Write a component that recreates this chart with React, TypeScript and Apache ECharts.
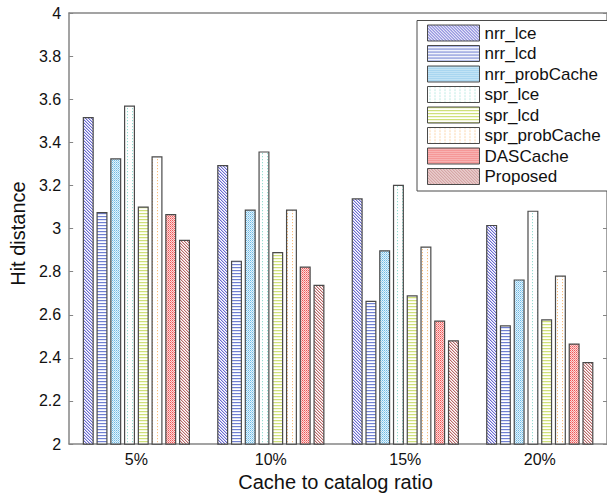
import React, { useEffect, useRef } from "react";
import * as echarts from "echarts";

const categories = ["5%", "10%", "15%", "20%"];
const seriesNames = [
  "nrr_lce",
  "nrr_lcd",
  "nrr_probCache",
  "spr_lce",
  "spr_lcd",
  "spr_probCache",
  "DASCache",
  "Proposed",
];
const nrrLce = [3.517, 3.295, 3.14, 3.017];
const nrrLcd = [3.077, 2.851, 2.665, 2.551];
const nrrProbCache = [3.326, 3.088, 2.899, 2.764];
const sprLce = [3.571, 3.358, 3.203, 3.083];
const sprLcd = [3.102, 2.891, 2.69, 2.579];
const sprProbCache = [3.335, 3.088, 2.917, 2.782];
const dasCache = [3.067, 2.824, 2.573, 2.467];
const proposed = [2.948, 2.739, 2.482, 2.381];
const yTicks = { min: 2, max: 4, interval: 0.2 };

type Px = [number, number, string];

function makePattern(w: number, h: number, bg: string, px: Px[]) {
  const c = document.createElement("canvas");
  c.width = w;
  c.height = h;
  const ctx = c.getContext("2d")!;
  ctx.fillStyle = bg;
  ctx.fillRect(0, 0, w, h);
  px.forEach(([x, y, col]) => {
    ctx.fillStyle = col;
    ctx.fillRect(x, y, 1, 1);
  });
  return { image: c, repeat: "repeat", imageWidth: w, imageHeight: h } as any;
}

function diag(dark: string, light: string): Px[] {
  const out: Px[] = [];
  for (let i = 0; i < 3; i++) {
    out.push([i, i, dark]);
    out.push([(i + 1) % 3, i, light]);
  }
  return out;
}

export default function App() {
  const ref = useRef<HTMLDivElement>(null);
  useEffect(() => {
    if (!ref.current) return;
    const chart = echarts.init(ref.current, null, { renderer: "svg" });
    const patterns = [
      makePattern(3, 3, "#ffffff", diag("#6a6ad2", "#c8c8ef")),
      makePattern(1, 3, "#ffffff", [
        [0, 0, "#7080d2"],
        [0, 1, "#e2e6f8"],
      ]),
      makePattern(2, 2, "#e4f3fb", [
        [0, 0, "#6db9e4"],
        [1, 1, "#9fd2ef"],
      ]),
      makePattern(5, 3, "#ffffff", [
        [2, 0, "#96ded2"],
        [2, 1, "#e6f7f4"],
      ]),
      makePattern(1, 3, "#ffffff", [
        [0, 0, "#cfe07a"],
        [0, 1, "#f5f9dc"],
      ]),
      makePattern(5, 3, "#ffffff", [
        [2, 0, "#f8bd7c"],
        [2, 1, "#fef0e0"],
      ]),
      makePattern(2, 2, "#fcd8d8", [
        [0, 0, "#ee5656"],
        [1, 1, "#f48c8c"],
      ]),
      makePattern(3, 3, "#ffffff", diag("#b86868", "#e8c8c8")),
    ];
    const dataSets = [
      nrrLce,
      nrrLcd,
      nrrProbCache,
      sprLce,
      sprLcd,
      sprProbCache,
      dasCache,
      proposed,
    ];
    const font = "Liberation Sans";
    const axisGray = "#858585";
    const option: any = {
      animation: false,
      backgroundColor: "#ffffff",
      textStyle: { fontFamily: font },
      grid: { left: 62.7, top: 13, width: 551, height: 433.5 },
      legend: {
        orient: "vertical",
        left: 417,
        top: 20.5,
        icon: "rect",
        itemWidth: 52,
        itemHeight: 16,
        itemGap: 3.5,
        padding: [4, 10, 6, 10],
        backgroundColor: "#ffffff",
        borderColor: "#4a4a4a",
        borderWidth: 1,
        borderRadius: 0,
        itemStyle: { borderColor: "#4a4a4a", borderWidth: 1 },
        textStyle: { fontSize: 17, fontFamily: font, color: "#111", lineHeight: 17 },
        data: seriesNames,
      },
      xAxis: [
        {
          type: "category",
          data: categories,
          position: "bottom",
          name: "Cache to catalog ratio",
          nameLocation: "middle",
          nameGap: 26,
          nameTextStyle: { fontSize: 20, color: "#111", fontFamily: font, padding: [0, 5, 0, 0] },
          axisLine: { lineStyle: { color: axisGray, width: 1.5 } },
          axisTick: { inside: true, alignWithLabel: true, length: 5, lineStyle: { color: "#444" } },
          axisLabel: { fontSize: 16, color: "#111", margin: 7, fontFamily: font },
          splitLine: { show: false },
        },
        {
          type: "category",
          data: categories,
          position: "top",
          axisLine: { lineStyle: { color: axisGray, width: 1.5 } },
          axisTick: { inside: true, alignWithLabel: true, length: 5, lineStyle: { color: axisGray } },
          axisLabel: { show: false },
          splitLine: { show: false },
        },
      ],
      yAxis: [
        {
          type: "value",
          min: yTicks.min,
          max: yTicks.max,
          interval: yTicks.interval,
          position: "left",
          name: "Hit distance",
          nameLocation: "middle",
          nameGap: 29,
          nameTextStyle: { fontSize: 20, color: "#111", fontFamily: font, padding: [0, 10, 0, 0] },
          axisLine: { show: true, lineStyle: { color: axisGray, width: 1.5 } },
          axisTick: { show: true, inside: true, length: 4, lineStyle: { color: axisGray } },
          axisLabel: { fontSize: 16, color: "#111", margin: 8, fontFamily: font },
          splitLine: { show: false },
        },
        {
          type: "value",
          min: yTicks.min,
          max: yTicks.max,
          interval: yTicks.interval,
          position: "right",
          axisLine: { show: true, lineStyle: { color: axisGray, width: 1.5 } },
          axisTick: { show: true, inside: true, length: 4, lineStyle: { color: axisGray } },
          axisLabel: { show: false },
          splitLine: { show: false },
        },
      ],
      series: seriesNames.map((name, i) => ({
        name,
        type: "bar",
        xAxisIndex: 0,
        yAxisIndex: 0,
        data: dataSets[i],
        barWidth: 11,
        barGap: "25%",
        clip: true,
        itemStyle: {
          color: patterns[i],
          borderColor: "#4a4a4a",
          borderWidth: 1.2,
        },
      })),
    };
    chart.setOption(option);
    return () => chart.dispose();
  }, []);
  return (
    <div
      ref={ref}
      style={{ position: "fixed", left: 0, top: 0, width: 607, height: 497 }}
    />
  );
}
